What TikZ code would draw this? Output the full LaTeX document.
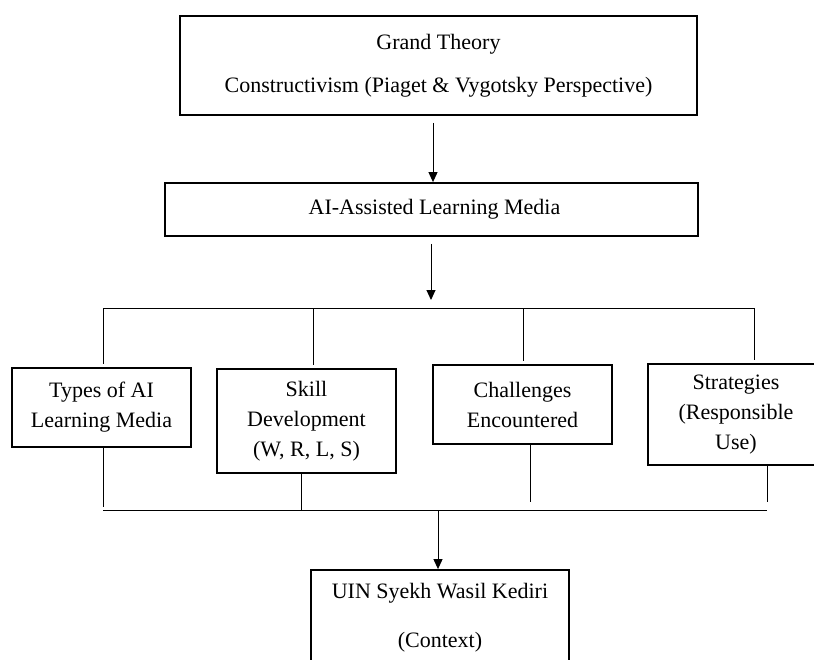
\documentclass[tikz,border=0pt]{standalone}
\usepackage{fontspec}
\setmainfont{Liberation Serif}
\usetikzlibrary{arrows.meta}

\tikzset{
  box/.style={draw, line width=0.9pt, align=center, inner sep=0pt,
    font=\fontsize{11}{15}\selectfont},
  link/.style={line width=0.5pt},
  arr/.style={link, -{Triangle[length=5pt,width=4.5pt]}}
}

\begin{document}
\begin{tikzpicture}[x=0.5pt,y=-0.5pt]
        \useasboundingbox (0,0) rectangle (814,659);
        % boxes
        \node[box, minimum width=258.5pt, minimum height=49.5pt,
          font=\fontsize{11}{21.5}\selectfont] (grand) at (438.5,65.5)
          {Grand Theory\\Constructivism (Piaget \& Vygotsky Perspective)};
        \node[box, minimum width=266.5pt, minimum height=26.5pt] (media) at (431.5,209.5)
          {\hspace*{3pt}AI-Assisted Learning Media};
        \node[box, minimum width=89.5pt, minimum height=39.5pt] (types) at (101.5,407.5)
          {Types of AI\\Learning Media};
        \node[box, minimum width=89.5pt, minimum height=52pt] (skill) at (306.5,421)
          {Skill\\Development\\(W, R, L, S)};
        \node[box, minimum width=89.5pt, minimum height=39.5pt] (chal) at (522.5,404.5)
          {Challenges\\Encountered};
        \node[box, minimum width=88pt, minimum height=50.5pt] (strat) at (736,414.5)
          {Strategies\\(Responsible\\Use)};
        \node[box, minimum width=129pt, minimum height=47.5pt,
          font=\fontsize{11}{24.5}\selectfont] (context) at (440,617.5)
          {UIN Syekh Wasil Kediri\\(Context)};
        % bus points
        \coordinate (split) at (431,308);
        \coordinate (topL) at (103,308);
        \coordinate (topR) at (754,308);
        \coordinate (botL) at (103,510);
        \coordinate (botR) at (767,510);
        \coordinate (join) at (438,510);
        % arrows
        \draw[arr, shorten <=3.5pt] ([xshift=-2.75pt]grand.south) -- (media.north -| 433,0);
        \draw[arr, shorten <=3.5pt, shorten >=4pt] (media.south -| split) -- (split);
        \draw[link] (topL) -- (topR);
        \foreach \bx/\n in {103/types, 313/skill, 523/chal, 754/strat}
        {
            \draw[link, shorten >=1.5pt] (\bx,308) -- (\n.north -| \bx,0);
        }
        \foreach \bx/\by/\n in {103/507/types, 301/511/skill, 530/502/chal, 767/502/strat}
        {
            \draw[link] (\n.south -| \bx,0) -- (\bx,\by);
        }
        \draw[link] (botL) -- (botR);
        \draw[arr] (join) -- (context.north -| join);
    \end{tikzpicture}
\end{document}
